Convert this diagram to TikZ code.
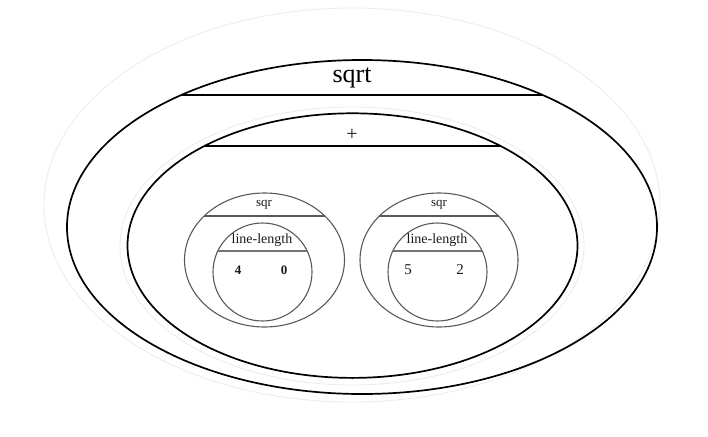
\documentclass[tikz,border=0pt]{standalone}
\usepackage{fontspec}
\setmainfont{Liberation Serif}
\usetikzlibrary{shapes.geometric}
\begin{document}
\begin{tikzpicture}[x=1pt,y=-1pt,
  bigell/.style={draw=black,line width=1.7pt,ellipse,inner sep=0pt,fill=none},
  faint/.style={draw=black!8,line width=0.8pt},
  smallell/.style={draw=black!65,line width=1.1pt,ellipse,inner sep=0pt},
  bigbar/.style={draw=black,line width=1.7pt},
  smallbar/.style={draw=black!55,line width=1.4pt},
  lbl/.style={inner sep=0pt,text=black!90}]
\useasboundingbox (0,0) rectangle (708,436);
% faint background ellipses
\draw[faint] (352,205) ellipse [x radius=308pt, y radius=197pt];
\draw[faint] (352,246) ellipse [x radius=232pt, y radius=139pt];
% outer sqrt ellipse
\node[bigell,minimum width=590pt,minimum height=334pt] (outer) at (362,227) {};
\coordinate (oL) at (181.3,95);
\coordinate (oR) at (542.7,95);
\draw[bigbar] (oL) -- (oR);
\node[lbl,text=black,font=\fontsize{26}{26}\selectfont] (tsqrt) at (352,78) {sqrt};
% inner + ellipse
\node[bigell,minimum width=450pt,minimum height=264.6pt] (inner) at (352.5,245.6) {};
\coordinate (iL) at (204.4,146);
\coordinate (iR) at (500.6,146);
\draw[bigbar] (iL) -- (iR);
\node[lbl,font=\fontsize{20}{20}\selectfont] (tplus) at (352,135) {+};
% left sqr
\node[smallell,minimum width=160pt,minimum height=134pt] (lsq) at (264.5,260) {};
\coordinate (lsL) at (204.2,216);
\coordinate (lsR) at (324.8,216);
\draw[smallell] (lsL) -- (lsR);
\node[lbl,font=\fontsize{13}{13}\selectfont] (tlsq) at (264,205) {sqr};
\node[smallell,minimum width=99pt,minimum height=98pt] (lll) at (262.5,272) {};
\coordinate (llL) at (217.8,251);
\coordinate (llR) at (307.2,251);
\draw[smallbar] (llL) -- (llR);
\node[lbl,font=\fontsize{14}{14}\selectfont] (tlll) at (262,240) {line-length};
\node[lbl,font=\bfseries\fontsize{13}{13}\selectfont] (t4) at (238,270) {4};
\node[lbl,font=\bfseries\fontsize{13}{13}\selectfont] (t0) at (284,270) {0};
% right sqr
\node[smallell,minimum width=158pt,minimum height=134pt] (rsq) at (439,260) {};
\coordinate (rsL) at (379.4,216);
\coordinate (rsR) at (498.6,216);
\draw[smallell] (rsL) -- (rsR);
\node[lbl,font=\fontsize{13}{13}\selectfont] (trsq) at (439,205) {sqr};
\node[smallell,minimum width=99pt,minimum height=98pt] (rll) at (437.5,272) {};
\coordinate (rlL) at (392.8,251);
\coordinate (rlR) at (482.2,251);
\draw[smallbar] (rlL) -- (rlR);
\node[lbl,font=\fontsize{14}{14}\selectfont] (trll) at (437,240) {line-length};
\node[lbl,font=\fontsize{15}{15}\selectfont] (t5) at (408,270) {5};
\node[lbl,font=\fontsize{15}{15}\selectfont] (t2) at (460,270) {2};
\end{tikzpicture}
\end{document}
